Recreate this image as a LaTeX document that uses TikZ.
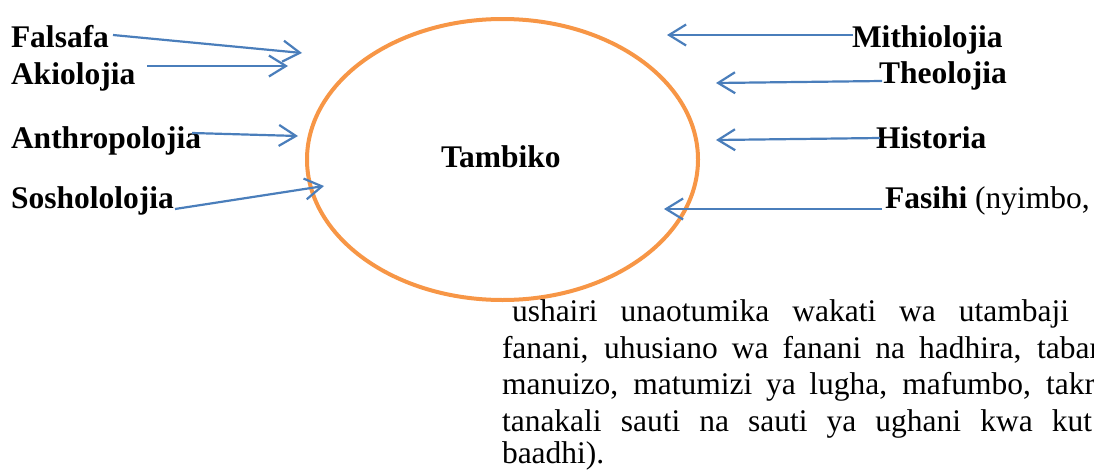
\documentclass[tikz,border=0pt]{standalone}
\usepackage{fontspec}
\setmainfont{Liberation Serif}
\usetikzlibrary{arrows.meta}
\definecolor{linkblue}{HTML}{4A7EBB}
\definecolor{ringorange}{HTML}{F79646}
\begin{document}
\begin{tikzpicture}[x=1pt,y=-1pt,
  lbl/.style={inner sep=0pt,outer sep=0pt,anchor=base west,font=\fontsize{31.5}{36.3}\selectfont\bfseries},
  para/.style={inner sep=0pt,outer sep=0pt,anchor=base west,font=\fontsize{31.5}{36.3}\selectfont},
  link/.style={draw=linkblue,line width=2.2pt,-{Straight Barb[length=17pt,width=21pt]}},
  ring/.style={draw=ringorange,line width=4pt}]
\useasboundingbox (0,0) rectangle (1094,471);
\clip (0,0) rectangle (1094,471);
% ellipse
\draw[ring] (502.5,159.5) ellipse [x radius=195.5, y radius=140.5];
\node[lbl] (tambiko) at (441,167) {Tambiko};
% left labels
\node[lbl] (falsafa) at (11,47) {Falsafa};
\node[lbl] (akiolojia) at (11,84) {Akiolojia};
\node[lbl] (anthro) at (11,148) {Anthropolojia};
\node[lbl] (sosho) at (11,208) {Soshololojia};
% right labels
\node[lbl] (mithio) at (852,47) {Mithiolojia};
\node[lbl] (theo) at (879,83) {Theolojia};
\node[lbl] (historia) at (876,148) {Historia};
\node[lbl] (fasihi) at (885,208) {Fasihi\mdseries{} (nyimbo,};
% paragraph lines
\node[para] (p1) at (512,321) {\makebox[557pt][s]{ushairi unaotumika wakati wa utambaji}};
\node[para] (p2) at (502,358) {\makebox[598pt][s]{fanani, uhusiano wa fanani na hadhira, tabar}};
\node[para] (p3) at (502,394) {\makebox[593pt][s]{manuizo, matumizi ya lugha, mafumbo, takr}};
\node[para] (p4) at (502,431) {\makebox[590pt][s]{tanakali sauti na sauti ya ughani kwa kut}};
\node[para] (p5) at (502,463) {baadhi).};
% arrow end points
\coordinate (fs) at (113,35);  \coordinate (ft) at (302,53);
\coordinate (as) at (147,66);  \coordinate (at) at (288,66);
\coordinate (ns) at (192,133); \coordinate (nt) at (298,136);
\coordinate (ss) at (175,209); \coordinate (st) at (324,186);
\coordinate (ms) at (853,35);  \coordinate (mt) at (667,35);
\coordinate (ts) at (882,81);  \coordinate (tt) at (716,83);
\coordinate (hs) at (880,138); \coordinate (ht) at (716,140);
\coordinate (xs) at (882,209); \coordinate (xt) at (664,209);
\draw[link] (fs) -- (ft);
\draw[link] (as) -- (at);
\draw[link] (ns) -- (nt);
\draw[link] (ss) -- (st);
\draw[link] (ms) -- (mt);
\draw[link] (ts) -- (tt);
\draw[link] (hs) -- (ht);
\draw[link] (xs) -- (xt);
\end{tikzpicture}
\end{document}
